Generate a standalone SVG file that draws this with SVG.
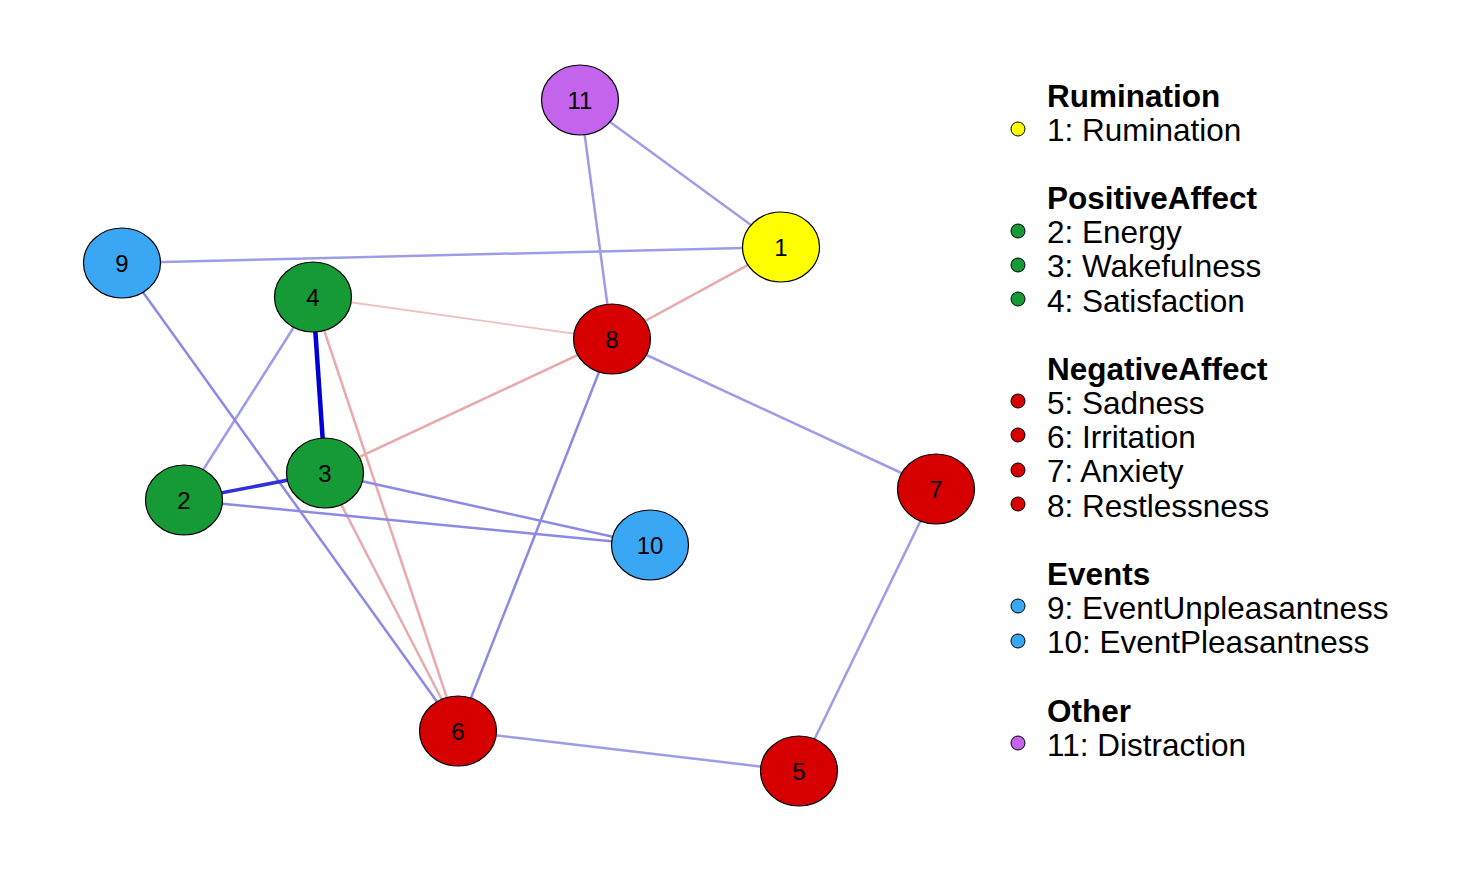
<svg xmlns="http://www.w3.org/2000/svg" width="1482" height="872" viewBox="0 0 1482 872">
  <style>
    .node ellipse { stroke: #000; stroke-width: 1.2; }
    .node text { font-family: "Liberation Sans", Arial, sans-serif; font-size: 24px; text-anchor: middle; fill: #000; }
    .pos { stroke: #9c9ce9; stroke-width: 2.5; fill: none; }
    .pos2 { stroke: #8a8ae6; stroke-width: 2.5; fill: none; }
    .neg { stroke: #e8aaaa; stroke-width: 2.5; fill: none; }
    .neg-l { stroke: #efc0c0; stroke-width: 1.8; fill: none; }
    .legend text { font-family: "Liberation Sans", Arial, sans-serif; font-size: 31.5px; fill: #000; }
    .legend .title { font-weight: bold; }
    .legend circle { stroke: #000; stroke-width: 1; }
    .yellow { fill: #ffff00; }
    .green { fill: #159a35; }
    .red { fill: #d60000; }
    .blue { fill: #3aa7f5; }
    .purple { fill: #c463eb; }
  </style>
  <rect width="1482" height="872" fill="#fff"/>

  <!-- edges -->
  <g id="edges">
    <line class="pos" x1="580" y1="100" x2="781" y2="247"/>
    <line class="pos" x1="580" y1="100" x2="612" y2="339"/>
    <line class="pos" x1="122" y1="263" x2="781" y2="247"/>
    <line class="neg" x1="781" y1="247" x2="612" y2="339"/>
    <line class="neg-l" x1="313" y1="297" x2="612" y2="339"/>
    <line class="pos" x1="313" y1="297" x2="184" y2="500"/>
    <line class="neg" x1="313" y1="297" x2="458" y2="731"/>
    <line class="neg" x1="325" y1="473" x2="612" y2="339"/>
    <line class="neg" x1="325" y1="473" x2="458" y2="731"/>
    <line class="pos2" x1="325" y1="473" x2="650" y2="545"/>
    <line class="pos2" x1="184" y1="500" x2="650" y2="545"/>
    <line class="pos2" x1="122" y1="263" x2="458" y2="731"/>
    <line class="pos2" x1="612" y1="339" x2="458" y2="731"/>
    <line class="pos" x1="612" y1="339" x2="936" y2="489"/>
    <line class="pos" x1="936" y1="489" x2="799" y2="771"/>
    <line class="pos" x1="458" y1="731" x2="799" y2="771"/>
    <line x1="313" y1="297" x2="325" y2="473" stroke="#0000d5" stroke-width="4.5"/>
    <line x1="184" y1="500" x2="325" y2="473" stroke="#3030dd" stroke-width="3.5"/>
  </g>

  <!-- nodes -->
  <g id="node-1" class="node"><ellipse class="yellow" cx="781" cy="247" rx="38.5" ry="35"/><text x="781" y="256">1</text></g>
  <g id="node-2" class="node"><ellipse class="green" cx="184" cy="500" rx="38.5" ry="35"/><text x="184" y="509">2</text></g>
  <g id="node-3" class="node"><ellipse class="green" cx="325" cy="473" rx="38.5" ry="35"/><text x="325" y="482">3</text></g>
  <g id="node-4" class="node"><ellipse class="green" cx="313" cy="297" rx="38.5" ry="35"/><text x="313" y="306">4</text></g>
  <g id="node-5" class="node"><ellipse class="red" cx="799" cy="771" rx="38.5" ry="35"/><text x="799" y="780">5</text></g>
  <g id="node-6" class="node"><ellipse class="red" cx="458" cy="731" rx="38.5" ry="35"/><text x="458" y="740">6</text></g>
  <g id="node-7" class="node"><ellipse class="red" cx="936" cy="489" rx="38.5" ry="35"/><text x="936" y="498">7</text></g>
  <g id="node-8" class="node"><ellipse class="red" cx="612" cy="339" rx="38.5" ry="35"/><text x="612" y="348">8</text></g>
  <g id="node-9" class="node"><ellipse class="blue" cx="122" cy="263" rx="38.5" ry="35"/><text x="122" y="272">9</text></g>
  <g id="node-10" class="node"><ellipse class="blue" cx="650" cy="545" rx="38.5" ry="35"/><text x="650" y="554">10</text></g>
  <g id="node-11" class="node"><ellipse class="purple" cx="580" cy="100" rx="38.5" ry="35"/><text x="580" y="109">11</text></g>

  <!-- legend -->
  <g id="legend" class="legend">
    <text class="title" x="1047" y="107">Rumination</text>
    <circle class="yellow" cx="1018" cy="129" r="7"/><text x="1047" y="141">1: Rumination</text>

    <text class="title" x="1047" y="209">PositiveAffect</text>
    <circle class="green" cx="1018" cy="231" r="7"/><text x="1047" y="243">2: Energy</text>
    <circle class="green" cx="1018" cy="265" r="7"/><text x="1047" y="277">3: Wakefulness</text>
    <circle class="green" cx="1018" cy="299" r="7"/><text x="1047" y="312">4: Satisfaction</text>

    <text class="title" x="1047" y="380">NegativeAffect</text>
    <circle class="red" cx="1018" cy="401" r="7"/><text x="1047" y="414">5: Sadness</text>
    <circle class="red" cx="1018" cy="435" r="7"/><text x="1047" y="448">6: Irritation</text>
    <circle class="red" cx="1018" cy="470" r="7"/><text x="1047" y="482">7: Anxiety</text>
    <circle class="red" cx="1018" cy="504" r="7"/><text x="1047" y="517">8: Restlessness</text>

    <text class="title" x="1047" y="585">Events</text>
    <circle class="blue" cx="1018" cy="606" r="7"/><text x="1047" y="619">9: EventUnpleasantness</text>
    <circle class="blue" cx="1018" cy="641" r="7"/><text x="1047" y="653">10: EventPleasantness</text>

    <text class="title" x="1047" y="722">Other</text>
    <circle class="purple" cx="1018" cy="743" r="7"/><text x="1047" y="756">11: Distraction</text>
  </g>
</svg>
